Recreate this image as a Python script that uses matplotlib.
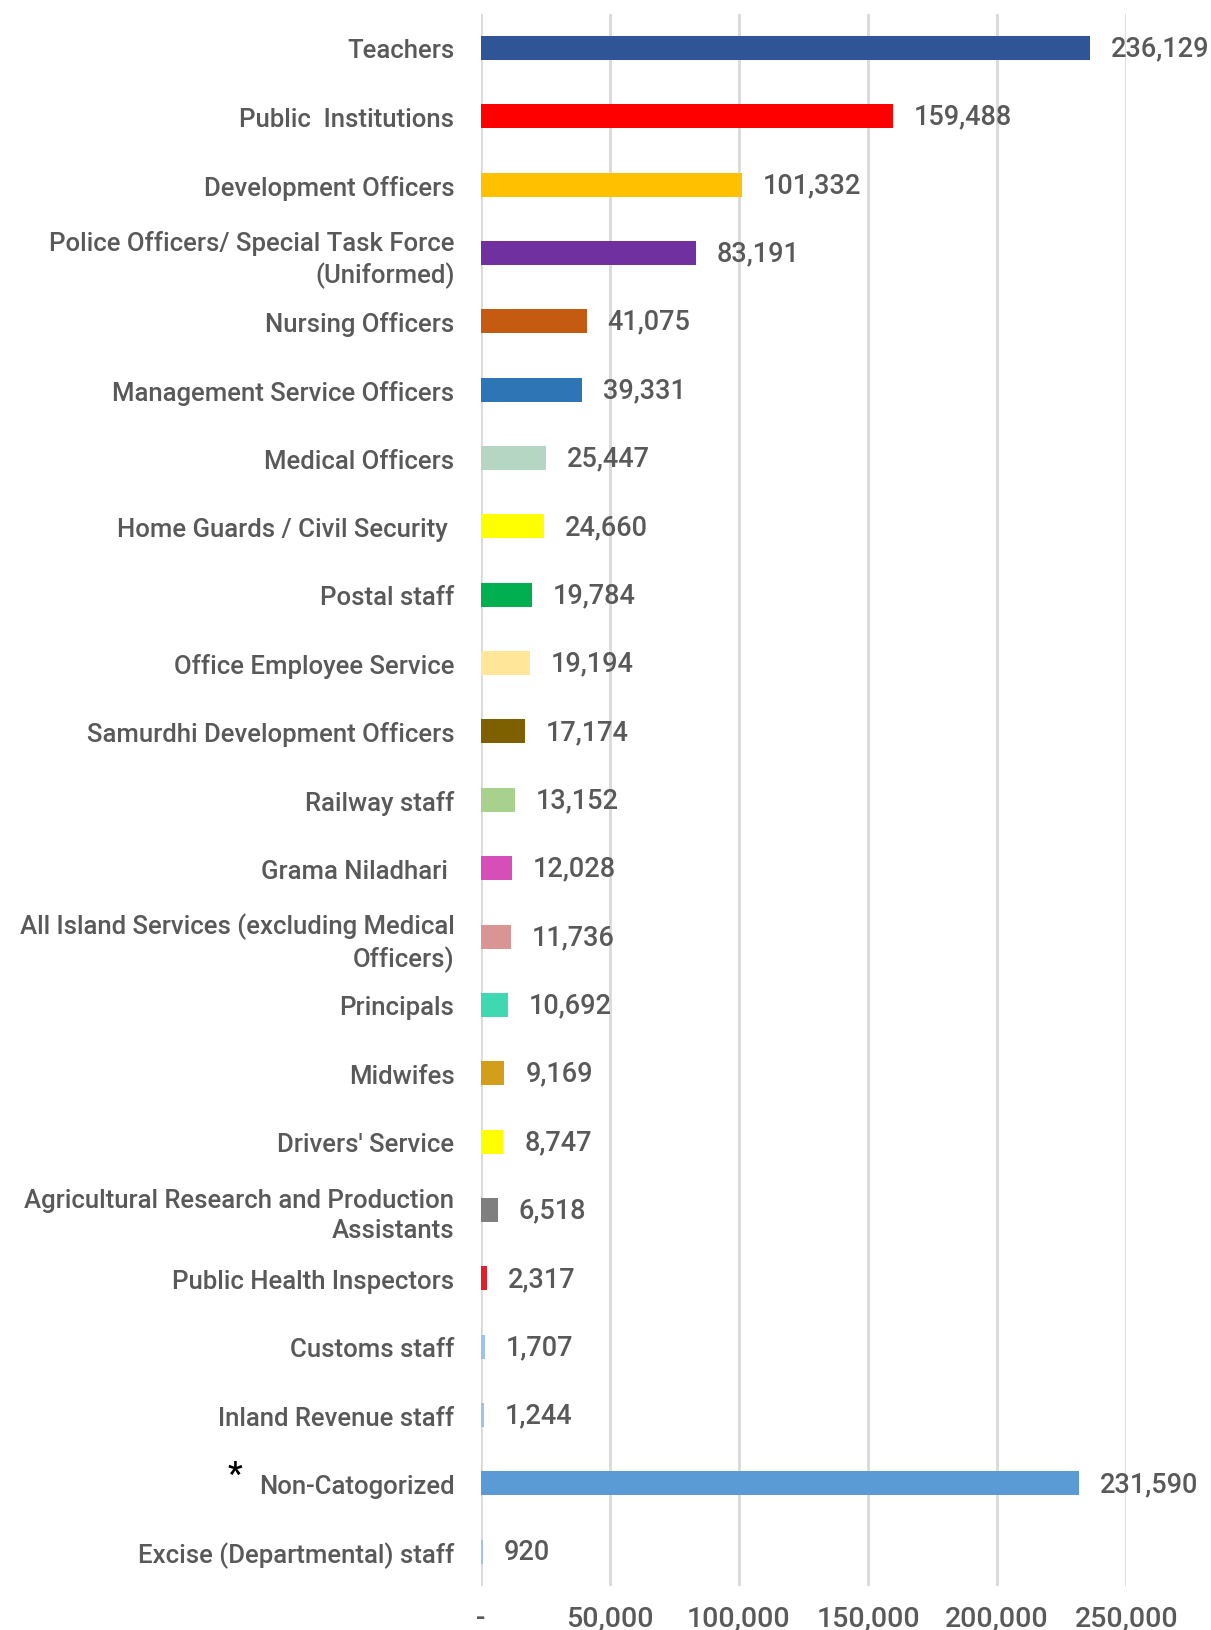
#!/usr/bin/env python3
"""Public sector employees by category - horizontal bar chart."""
import matplotlib.pyplot as plt
from matplotlib.ticker import FuncFormatter

OUT_PNG = "out.png"

CATEGORIES = [
    "Teachers",
    "Public  Institutions",
    "Development Officers",
    "Police Officers/ Special Task Force\n(Uniformed)",
    "Nursing Officers",
    "Management Service Officers",
    "Medical Officers",
    "Home Guards / Civil Security ",
    "Postal staff",
    "Office Employee Service",
    "Samurdhi Development Officers",
    "Railway staff",
    "Grama Niladhari ",
    "All Island Services (excluding Medical\nOfficers)",
    "Principals",
    "Midwifes",
    "Drivers' Service",
    "Agricultural Research and Production\nAssistants",
    "Public Health Inspectors",
    "Customs staff",
    "Inland Revenue staff",
    "Non-Catogorized",
    "Excise (Departmental) staff",
]

VALUES = [236129, 159488, 101332, 83191, 41075, 39331, 25447, 24660, 19784,
          19194, 17174, 13152, 12028, 11736, 10692, 9169, 8747, 6518, 2317,
          1707, 1244, 231590, 920]

COLORS = ["#2F5597", "#FF0000", "#FFC000", "#7030A0", "#C55A11", "#2E75B6",
          "#B5D6C3", "#FFFF00", "#00B050", "#FFE699", "#7F6000", "#A9D18E",
          "#D64FB9", "#D99594", "#3FD8B0", "#D39E1A", "#FFFF00", "#7F7F7F",
          "#E0202A", "#9DC3E6", "#9DC3E6", "#5B9BD5", "#9DC3E6"]

X_TICKS = [0, 50000, 100000, 150000, 200000, 250000]

GREY = "#595959"


def fmt_x(v, _pos):
    return "-" if v == 0 else f"{int(v):,}"


def main():
    plt.rcParams["font.family"] = ["Roboto", "DejaVu Sans"]
    plt.rcParams["font.weight"] = "medium"

    fig = plt.figure(figsize=(12.11, 16.31), dpi=100)
    ax = fig.add_axes([0.397, 0.027, 0.533, 0.964])

    y = list(range(len(CATEGORIES)))
    bars = ax.barh(y, VALUES, height=0.35, color=COLORS, zorder=3)

    # value labels to the right of each bar
    for rect, v in zip(bars, VALUES):
        ax.annotate(f"{v:,}", xy=(rect.get_width(), rect.get_y() + rect.get_height() / 2),
                    xytext=(15, 0), textcoords="offset points",
                    ha="left", va="center", fontsize=19.5, color=GREY,
                    clip_on=False, zorder=4)

    ax.set_yticks(y)
    ax.set_yticklabels(CATEGORIES, fontsize=18.5, color=GREY, linespacing=1.3)
    ax.set_ylim(len(CATEGORIES) - 0.5, -0.5)

    ax.set_xlim(0, 250000)
    ax.set_xticks(X_TICKS)
    ax.xaxis.set_major_formatter(FuncFormatter(fmt_x))
    ax.tick_params(axis="x", labelsize=20.5, colors=GREY, length=0, pad=13)
    ax.tick_params(axis="y", length=0, pad=19)

    ax.grid(axis="x", color="#D9D9D9", linewidth=2, zorder=0)
    for s in ax.spines.values():
        s.set_visible(False)

    # asterisk in front of the Non-Catogorized label
    idx = CATEGORIES.index("Non-Catogorized")
    ax.annotate("*", xy=(0, idx), xycoords=("axes fraction", "data"),
                xytext=(-177, 6), textcoords="offset points",
                ha="center", va="center", fontsize=24, color="black")

    fig.savefig(OUT_PNG, dpi=100)


if __name__ == "__main__":
    main()
